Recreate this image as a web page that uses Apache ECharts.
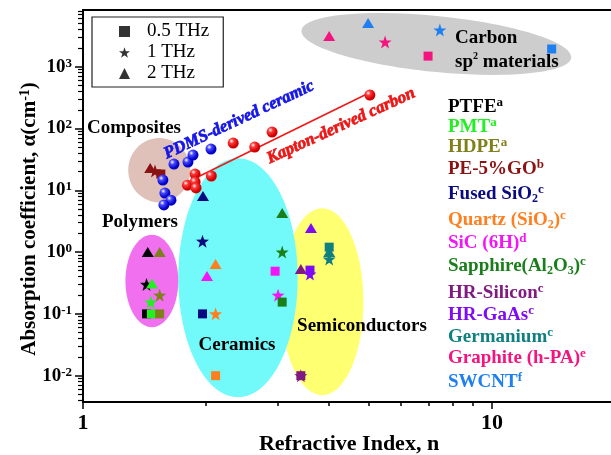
<!DOCTYPE html>
<html>
<head>
<meta charset="utf-8">
<script src="https://cdn.jsdelivr.net/npm/echarts@6/dist/echarts.min.js"></script>
<style>
  html, body { margin: 0; padding: 0; background: #fff; }
  #chart { width: 611px; height: 455px; }
</style>
</head>
<body>
<div id="chart"></div>
<script>
// ---- Data -----------------------------------------------------------------
// Measurement frequencies (marker shape encodes frequency)
const frequencies = ['0.5 THz', '1 THz', '2 THz'];

// Material names as listed in the key on the right
const materials = ['PTFE', 'PMT', 'HDPE', 'PE-5%GO', 'Fused SiO2', 'Quartz (SiO2)', 'SiC (6H)',
  'Sapphire(Al2O3)', 'HR-Silicon', 'HR-GaAs', 'Germanium', 'Graphite (h-PA)', 'SWCNT'];

// Refractive index n at [0.5, 1, 2] THz
const nPTFE = [1.43, 1.43, 1.44];
const nPMT = [1.47, 1.465, 1.475];
const nHDPE = [1.54, 1.54, 1.54];
const nPEGO = [1.55, 1.50, 1.46];
const nFusedSiO2 = [1.96, 1.96, 1.965];
const nQuartz = [2.11, 2.11, 2.11];
const nSiC = [2.95, 3.0, 2.01];
const nSapphire = [3.07, 3.07, 3.07];
const nSilicon = [3.41, 3.41, 3.41];
const nGaAs = [3.59, 3.59, 3.61];
const nGermanium = [4.0, 4.0, 4.0];
const nGraphite = [6.98, 5.48, 4.0];
const nSWCNT = [14.0, 7.46, 4.98];

// Absorption coefficient α (cm^-1) at [0.5, 1, 2] THz
const aPTFE = [0.1, 0.3, 1.0];
const aPMT = [0.1, 0.155, 0.31];
const aHDPE = [0.1, 0.2, 1.0];
const aPEGO = [18.3, 20.5, 22.9];
const aFusedSiO2 = [0.1, 1.5, 8.1];
const aQuartz = [0.01, 0.1, 0.64];
const aSiC = [0.49, 0.2, 0.41];
const aSapphire = [0.155, 1.0, 4.3];
const aSilicon = [0.01, 0.01, 0.53];
const aGaAs = [0.51, 0.44, 2.44];
const aGermanium = [1.2, 0.77, 1.0];
const aGraphite = [1480, 2500, 3130];
const aSWCNT = [1930, 3910, 5080];

// PDMS-derived ceramic samples
const nPDMS = [1.568, 1.586, 1.641, 1.577, 1.669, 1.806, 1.858, 2.056];
const aPDMS = [14.6, 9.0, 6.9, 5.8, 26.5, 28.6, 37.1, 46.4];

// Kapton-derived carbon samples and their trend line
const nKapton = [1.80, 1.88, 1.88, 1.89, 2.06, 2.33, 2.63, 2.90, 5.03];
const aKapton = [12.1, 18.3, 13.6, 10.9, 17.0, 58, 50, 87.5, 347];
const nKaptonFit = [1.93, 5.12];
const aKaptonFit = [17.0, 403];

// Axis ticks
const xMajorTicks = [1, 10];
const xMinorTicks = [2, 3, 4, 5, 6, 7, 8, 9, 20];
const yDecades = [0.01, 0.1, 1, 10, 100, 1000];

// Material class regions: [n range], [α range]
const regionNames = ['Semiconductors', 'Ceramics', 'Polymers', 'Composites', 'Carbon'];
const regionN = [[3.05, 4.85], [1.71, 3.35], [1.27, 1.71], [1.29, 1.83], [3.41, 15.7]];
const regionA = [[0.0048, 5.1], [0.0045, 33], [0.061, 1.9], [6.4, 70], [820, 6600]];

// ---- Styling ---------------------------------------------------------------
const SERIF = '"Liberation Serif", "Times New Roman", Times, serif';
const STAR = 'path://M10,0L12.35,6.76L19.51,6.91L13.8,11.24L15.88,18.09L10,14L4.12,18.09L6.2,11.24L0.49,6.91L7.65,6.76Z';
const shapeOf = ['rect', STAR, 'triangle'];
const sizeOf = [9, 13, [12, 10]];

const matN = [nPTFE, nPMT, nHDPE, nPEGO, nFusedSiO2, nQuartz, nSiC, nSapphire, nSilicon, nGaAs, nGermanium, nGraphite, nSWCNT];
const matA = [aPTFE, aPMT, aHDPE, aPEGO, aFusedSiO2, aQuartz, aSiC, aSapphire, aSilicon, aGaAs, aGermanium, aGraphite, aSWCNT];
const matColors = ['#000000', '#22F022', '#80801A', '#8B1212', '#0A0A80', '#FF7F1E', '#F514F5',
  '#1A7F1A', '#801A80', '#7F0AF5', '#0F7F7F', '#F5147F', '#1E7FF0'];
const keyLabels = ['PTFE{sup|a}', 'PMT{sup|a}', 'HDPE{sup|a}', 'PE-5%GO{sup|b}', 'Fused SiO{sub|2}{sup|c}',
  'Quartz (SiO{sub|2}){sup|c}', 'SiC (6H){sup|d}', 'Sapphire(Al{sub|2}O{sub|3}){sup|c}', 'HR-Silicon{sup|c}',
  'HR-GaAs{sup|c}', 'Germanium{sup|c}', 'Graphite (h-PA){sup|e}', 'SWCNT{sup|f}'];
const keyY = [107, 127, 147, 169, 194, 220, 243, 266, 293, 315, 337, 358, 382];

const regionColors = ['#FFFF72', '#72FAFA', '#F070F0', '#DFC1B9', '#CDCDCD'];
const regionRotation = [0, 0, 0, 0, -0.1];

function sphere(light, mid, dark) {
  return {
    type: 'radial', x: 0.35, y: 0.32, r: 0.75,
    colorStops: [
      { offset: 0, color: light },
      { offset: 0.28, color: mid },
      { offset: 0.75, color: dark },
      { offset: 1, color: dark }
    ]
  };
}

const xAxisBase = { type: 'log', logBase: 10, min: 1, max: 20, gridIndex: 0, position: 'bottom', splitLine: { show: false } };
const yAxisBase = { type: 'log', logBase: 10, min: 0.00375, max: 8250, gridIndex: 0, position: 'left', splitLine: { show: false } };

const yMinorTicks = [];
[0.001, 0.01, 0.1, 1, 10, 100, 1000].forEach(d => {
  for (let m = 2; m <= 9; m++) yMinorTicks.push(+(m * d).toPrecision(3));
});

// ---- Series ----------------------------------------------------------------
const series = [];

// Legend entries (frequency shapes)
frequencies.forEach((f, i) => {
  series.push({ type: 'scatter', name: f, data: [], symbol: shapeOf[i], itemStyle: { color: '#000' } });
});

materials.forEach((name, i) => {
  const data = [];
  [2, 1, 0].forEach(f => {
    if (matA[i][f] != null) {
      data.push({ value: [matN[i][f], matA[i][f]], symbol: shapeOf[f], symbolSize: sizeOf[f] });
    }
  });
  series.push({ type: 'scatter', name: name, data: data, z: 3, silent: true,
    itemStyle: { color: matColors[i], opacity: 1 } });
});

series.push({
  type: 'line', name: 'Kapton fit', data: nKaptonFit.map((n, i) => [n, aKaptonFit[i]]),
  showSymbol: false, symbol: 'none', z: 3, silent: true,
  lineStyle: { color: '#F01818', width: 1.6 }
});
series.push({
  type: 'scatter', name: 'PDMS-derived ceramic', data: nPDMS.map((n, i) => [n, aPDMS[i]]),
  symbol: 'circle', symbolSize: 11, z: 4, silent: true,
  itemStyle: { color: sphere('#ffffff', '#4a4aff', '#0000c8'), opacity: 1 }
});
series.push({
  type: 'scatter', name: 'Kapton-derived carbon', data: nKapton.map((n, i) => [n, aKapton[i]]),
  symbol: 'circle', symbolSize: 11, z: 4, silent: true,
  itemStyle: { color: sphere('#ffffff', '#ff3a3a', '#d00000'), opacity: 1 }
});

// ---- Chart -----------------------------------------------------------------
const chart = echarts.init(document.getElementById('chart'), null, { renderer: 'canvas' });

const option = {
  animation: false,
  backgroundColor: '#fff',
  grid: { left: 83, top: 10, right: -4, bottom: 53, show: true, borderColor: '#000', borderWidth: 2,
    containLabel: false, outerBoundsMode: 'none' },
  legend: {
    data: frequencies.map((f, i) => ({ name: f, icon: shapeOf[i] })),
    orient: 'vertical', left: 92, top: 17,
    itemWidth: 11, itemHeight: 11, itemGap: 0,
    padding: [4, 14, 3, 27],
    borderColor: '#222', borderWidth: 1.2,
    selectedMode: false,
    textStyle: { fontFamily: SERIF, fontSize: 19, color: '#000', lineHeight: 21, padding: [0, 0, 0, 12] }
  },
  xAxis: [
    Object.assign({}, xAxisBase, {
      name: 'Refractive Index, n', nameLocation: 'middle', nameGap: 31, nameMoveOverlap: false,
      nameTextStyle: { fontFamily: SERIF, fontSize: 22, fontWeight: 'bold', color: '#000' },
      axisLine: { show: true, lineStyle: { color: '#000', width: 2 } },
      axisTick: { show: true, inside: false, length: 7, customValues: xMajorTicks, lineStyle: { color: '#000', width: 1.5 } },
      axisLabel: { customValues: xMajorTicks, margin: 10, fontFamily: SERIF, fontSize: 22, fontWeight: 'bold', color: '#000',
        formatter: v => String(Math.round(v)) }
    }),
    Object.assign({}, xAxisBase, {
      axisLine: { show: false },
      axisTick: { show: true, inside: false, length: 4, customValues: xMinorTicks, lineStyle: { color: '#000', width: 1.5 } },
      axisLabel: { show: false }
    })
  ],
  yAxis: [
    Object.assign({}, yAxisBase, {
      name: 'Absorption coefficient, α(cm{s|-1})', nameLocation: 'middle', nameGap: 41, nameRotate: 90, nameMoveOverlap: false,
      nameTextStyle: { fontFamily: SERIF, fontSize: 21, fontWeight: 'bold', color: '#000', lineHeight: 24,
        padding: [0, 26, 0, 0],
        rich: { s: { fontFamily: SERIF, fontSize: 14, fontWeight: 'bold', color: '#000', verticalAlign: 'top', lineHeight: 6 } } },
      axisLine: { show: true, lineStyle: { color: '#000', width: 2 } },
      axisTick: { show: true, inside: false, length: 8, customValues: yDecades, lineStyle: { color: '#000', width: 1.5 } },
      axisLabel: {
        customValues: yDecades, margin: 11, color: '#000',
        formatter: v => '{b|10}{s|' + Math.round(Math.log10(v)) + '}',
        rich: {
          b: { fontFamily: SERIF, fontSize: 19, fontWeight: 'bold', color: '#000', lineHeight: 20 },
          s: { fontFamily: SERIF, fontSize: 13, fontWeight: 'bold', color: '#000', verticalAlign: 'top', lineHeight: 8 }
        }
      }
    }),
    Object.assign({}, yAxisBase, {
      axisLine: { show: false },
      axisTick: { show: true, inside: false, length: 5, customValues: yMinorTicks, lineStyle: { color: '#000', width: 1.2 } },
      axisLabel: { show: false }
    })
  ],
  series: series
};

chart.setOption(option);

// ---- Region ellipses and text annotations ---------------------------------
const graphics = [];
regionNames.forEach((r, i) => {
  const p0 = chart.convertToPixel({ gridIndex: 0 }, [regionN[i][0], regionA[i][0]]);
  const p1 = chart.convertToPixel({ gridIndex: 0 }, [regionN[i][1], regionA[i][1]]);
  const cx = (p0[0] + p1[0]) / 2, cy = (p0[1] + p1[1]) / 2;
  graphics.push({
    type: 'ellipse', x: cx, y: cy, rotation: regionRotation[i], z: 1, silent: true,
    shape: { cx: 0, cy: 0, rx: Math.abs(p1[0] - p0[0]) / 2, ry: Math.abs(p1[1] - p0[1]) / 2 },
    style: { fill: regionColors[i], stroke: null }
  });
});

function label(text, x, y, opts) {
  return Object.assign({
    type: 'text', x: x, y: y, z: 6, silent: true,
    style: Object.assign({
      text: text, fontFamily: SERIF, fontSize: 19, fontWeight: 'bold', fill: '#000',
      align: 'center', verticalAlign: 'middle', textAlign: 'center', textVerticalAlign: 'middle'
    }, opts || {})
  });
}

graphics.push(label('Composites', 134, 128));
graphics.push(label('Polymers', 140, 222));
graphics.push(label('Ceramics', 237, 345));
graphics.push(label('Semiconductors', 362, 326));
graphics.push(label('Carbon', 455, 38, { align: 'left', textAlign: 'left' }));
graphics.push(label('sp{sup|2} materials', 455, 62, {
  align: 'left', textAlign: 'left', lineHeight: 22,
  rich: { sup: { fontFamily: SERIF, fontSize: 10, fontWeight: 'bold', verticalAlign: 'top', lineHeight: 6 } }
}));

// Rotated italic captions for the two derived-material series (stroked for extra weight)
const pdms = label('PDMS-derived ceramic', 239, 120, { fontStyle: 'italic', fontWeight: 'bold', fontSize: 17,
  fill: '#1515E8', stroke: '#1515E8', lineWidth: 0.7 });
pdms.rotation = 0.44;
graphics.push(pdms);
const kapton = label('Kapton-derived carbon', 341, 126, { fontStyle: 'italic', fontWeight: 'bold', fontSize: 17,
  fill: '#EE1515', stroke: '#EE1515', lineWidth: 0.7 });
kapton.rotation = 0.43;
graphics.push(kapton);

keyLabels.forEach((t, i) => {
  graphics.push(label(t, 448, keyY[i], {
    align: 'left', textAlign: 'left', fill: matColors[i], lineHeight: 22,
    rich: {
      sup: { fontFamily: SERIF, fontSize: 13, fontWeight: 'bold', verticalAlign: 'top', lineHeight: 6 },
      sub: { fontFamily: SERIF, fontSize: 12, fontWeight: 'bold', verticalAlign: 'bottom', lineHeight: 4 }
    }
  }));
});

chart.setOption({ graphic: graphics });
</script>
</body>
</html>
